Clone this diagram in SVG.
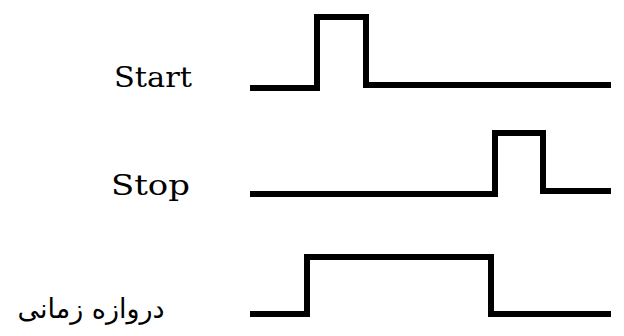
<svg xmlns="http://www.w3.org/2000/svg" width="624" height="336" viewBox="0 0 624 336">
<style>
.sig{fill:none;stroke:#000;stroke-width:6;stroke-linejoin:miter;stroke-linecap:butt}
.lbl{font-family:"DejaVu Serif","Liberation Serif",serif;font-size:27px;fill:#000}
.fa{font-family:"DejaVu Sans","Noto Sans",sans-serif;font-size:27px;fill:#000}
</style>
<rect width="624" height="336" fill="#fff"/>
<g id="start">
<text class="lbl" x="114" y="87" textLength="78" lengthAdjust="spacingAndGlyphs">Start</text>
</g>
<g id="stop">
<text class="lbl" x="111" y="195" textLength="79" lengthAdjust="spacingAndGlyphs">Stop</text>
</g>
<g id="gate">
<text class="fa" x="91" y="318" text-anchor="middle" direction="rtl">دروازه زمانی</text>
</g>
<g id="connectors">
<path class="sig" d="M250 88 H317 V17 H366 V85 H611"/>
<path class="sig" d="M250 194 H495 V133 H543 V191 H611"/>
<path class="sig" d="M250 314 H307 V257 H491 V314 H611"/>
</g>
</svg>
